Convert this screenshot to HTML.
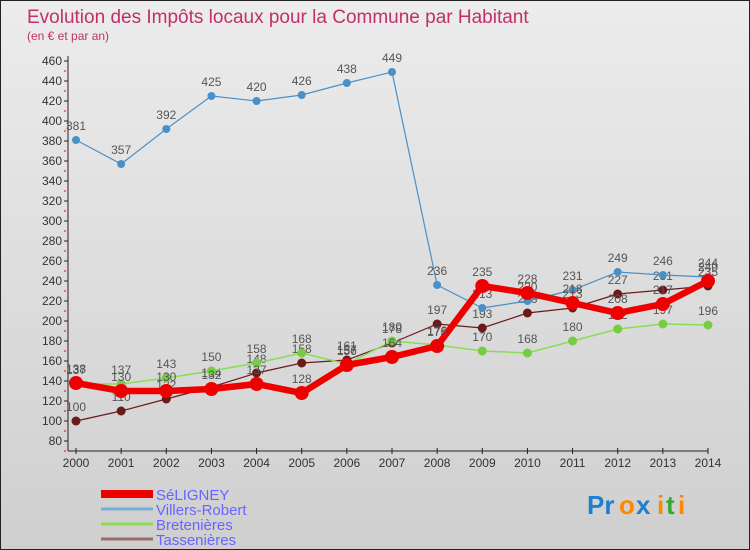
<!DOCTYPE html>
<html><head><meta charset="utf-8"><style>
body{margin:0}
#c{width:750px;height:550px;position:relative;background:linear-gradient(#ececec,#cfcfcf);box-sizing:border-box;border:1px solid #222;overflow:hidden;font-family:"Liberation Sans",sans-serif}
text{font-family:"Liberation Sans",sans-serif}
</style></head><body>
<div id="c">
<svg id="s" width="750" height="550">
<text x="26" y="22" font-size="19" fill="#c0306a">Evolution des Impôts locaux pour la Commune par Habitant</text>
<text x="26" y="39" font-size="12" fill="#c0306a">(en € et par an)</text>
<g id="axes"></g><g id="series"></g><g id="legend"></g>
<g font-size="26" font-weight="bold">
<text x="586" y="513" fill="#1e7fd0">Pr</text><text x="618" y="513" fill="#ff8800">o</text><text x="635" y="513" fill="#1e7fd0">x</text><text x="656" y="513" fill="#ff8800">i</text><text x="665" y="513" fill="#33aa33">t</text><text x="677" y="513" fill="#ff8800">i</text>
</g>
</svg>
</div>
<script>
const years=[2000,2001,2002,2003,2004,2005,2006,2007,2008,2009,2010,2011,2012,2013,2014];
const yTicks=[80,100,120,140,160,180,200,220,240,260,280,300,320,340,360,380,400,420,440,460];
const seligney=[138,130,130,132,137,128,156,164,175,235,228,218,208,217,240];
const villers=[381,357,392,425,420,426,438,449,236,213,220,231,249,246,244];
const bretenieres=[137,137,143,150,158,168,157,180,176,170,168,180,192,197,196];
const tassenieres=[100,110,122,134,148,158,161,178,197,193,208,213,227,231,235];
const NS='http://www.w3.org/2000/svg';
const X=i=>75+i*(707-75)/(years.length-1);
const Y=v=>440-(v-80)*(380/380);
function mk(t,a,p){const e=document.createElementNS(NS,t);for(const k in a)e.setAttribute(k,a[k]);p.appendChild(e);return e;}
const ax=document.getElementById('axes');
let l=mk('line',{x1:67,y1:55,x2:67,y2:450,stroke:'#222'},ax);


l=mk('line',{x1:67,y1:450,x2:707,y2:450,stroke:'#222'},ax);


yTicks.forEach(v=>{
  mk('line',{x1:63,y1:Y(v),x2:67,y2:Y(v),stroke:'#222'},ax);
  mk('line',{x1:63,y1:Y(v)+10,x2:65,y2:Y(v)+10,stroke:'#e00'},ax);
  const t=mk('text',{x:61,y:Y(v)+4,'font-size':12,'text-anchor':'end',fill:'#333'},ax);
  t.textContent=v;
  
  
});
years.forEach((y,i)=>{
  mk('line',{x1:X(i),y1:447,x2:X(i),y2:453,stroke:'#222'},ax);
  const t=mk('text',{x:X(i),y:466,'font-size':12,'text-anchor':'middle',fill:'#333'},ax);
  t.textContent=y;
  
  
});
const ser=[
 {n:'Tassenières',d:tassenieres,c:'#6b1a1a',w:1.2,r:4.5,lc:'#9a6b6b'},
 {n:'Bretenières',d:bretenieres,c:'#88dd55',w:1.5,r:4.5,lc:'#88dd55',dc:'#77cc44'},
 {n:'Villers-Robert',d:villers,c:'#4a90c8',w:1.2,r:4,lc:'#7aaed6'},
 {n:'SéLIGNEY',d:seligney,c:'#ee0000',w:6.5,r:7,lc:'#ee0000'}
];
const sg=document.getElementById('series');
ser.forEach(s=>{
  const g=mk('g',{},sg);
  
  
  const p=mk('polyline',{points:s.d.map((v,i)=>X(i)+','+Y(v)).join(' '),fill:'none',stroke:s.c,'stroke-width':s.w},g);
  
  
  s.d.forEach((v,i)=>{
    const c=mk('circle',{cx:X(i),cy:Y(v),r:s.r,fill:s.dc||s.c},g);
    
    
    const t=mk('text',{x:X(i),y:Y(v)-10,'font-size':12,'text-anchor':'middle',fill:'#555'},g);
    t.textContent=v;
    
    
  });
});
const lg=document.getElementById('legend');
[ser[3],ser[2],ser[1],ser[0]].forEach((s,i)=>{
  const y=493+i*15;
  const r=mk('rect',{x:100,y:y-(i==0?4:1.5),width:52,height:i==0?8:3,fill:s.lc},lg);
  
  
  const t=mk('text',{x:155,y:y+6,'font-size':15,fill:'#6666ff'},lg);
  t.textContent=s.n;
  
  
});
</script>
</body></html>
